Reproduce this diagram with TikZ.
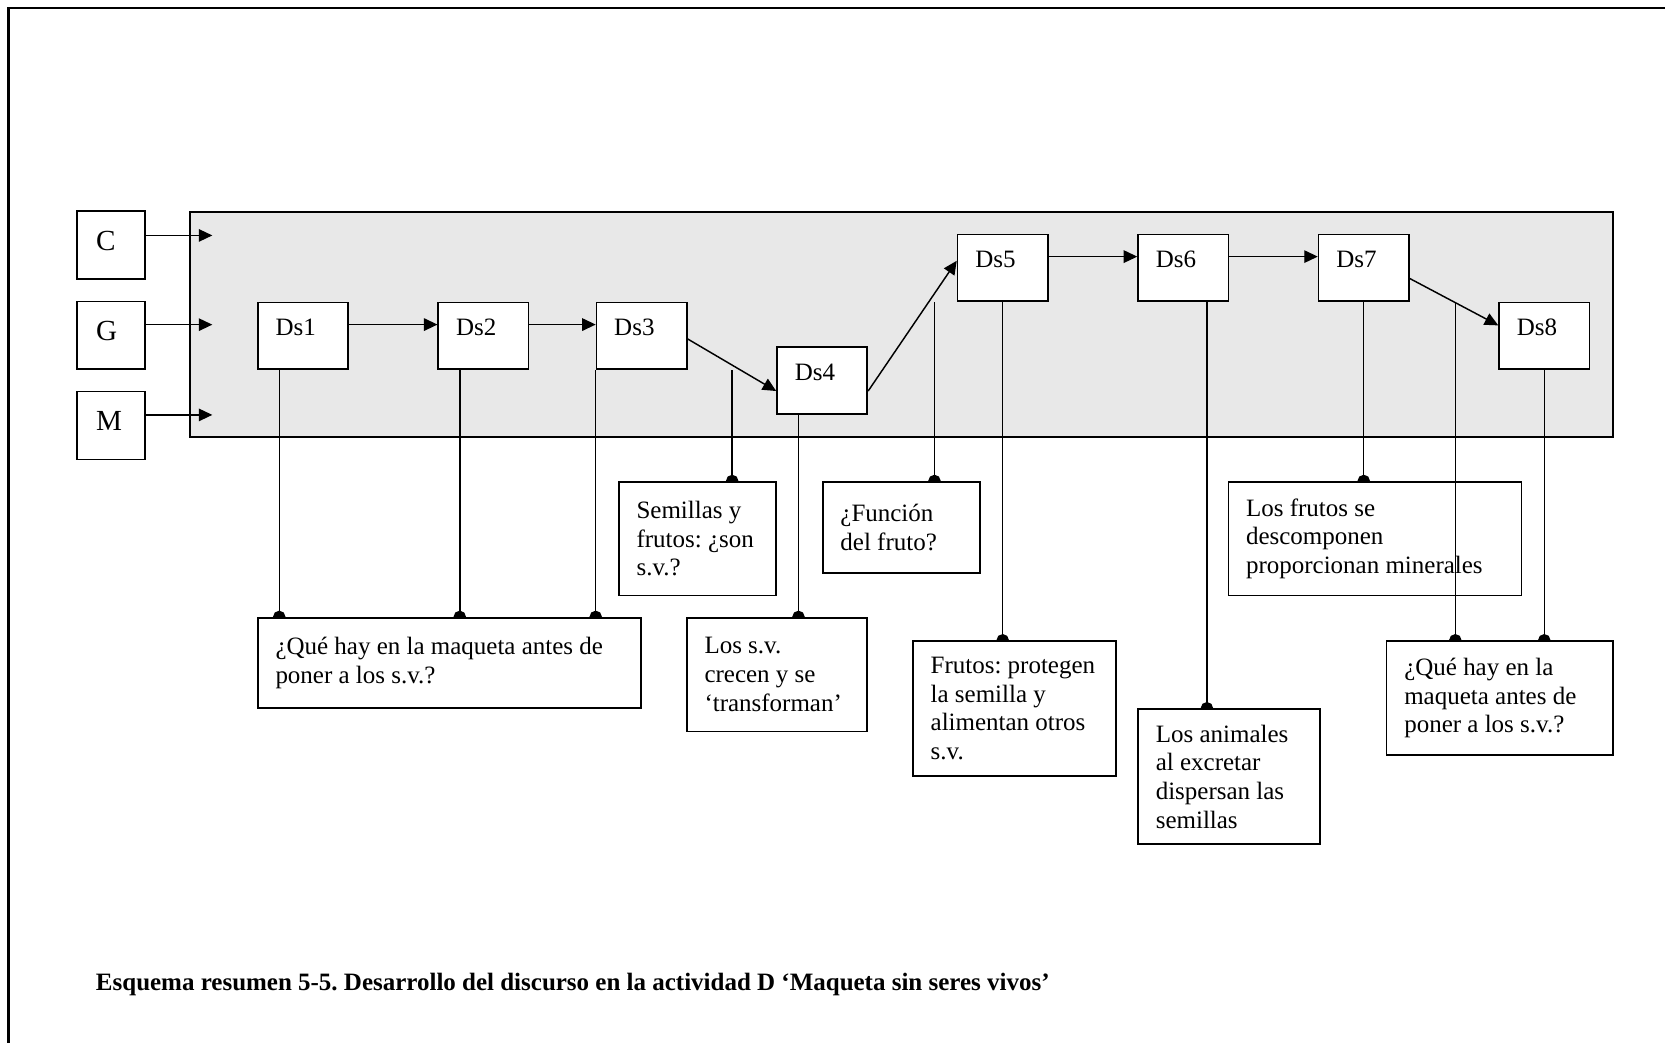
\documentclass[tikz,border=0pt]{standalone}
\usepackage{fontspec}
\setmainfont{Liberation Serif}
\usetikzlibrary{arrows.meta,calc}
\pgfdeclarelayer{back}
\pgfdeclarelayer{wires}
\pgfsetlayers{back,wires,main}
\frenchspacing
\tikzset{
  box/.style={draw, fill=white, line width=0.8pt, anchor=north west, align=flush left, inner xsep=8.5pt, inner ysep=0pt, font=\fontsize{12}{13.8}\selectfont, text width=#1},
  box/.default=26.35pt,
  src/.style={box=14.6pt, inner xsep=9pt, font=\fontsize{14}{16}\selectfont, text height=18.9pt, text depth=13.7pt},
  dsb/.style={box, text height=16pt, text depth=16.1pt},
  panel/.style={draw, fill=black!9, line width=1pt, anchor=north west, inner sep=0pt},
  rim/.style={line width=1.3pt},
  arr/.style={-{Triangle[length=6.5pt,width=6pt]}, line width=0.7pt},
  dotl/.style={-{Circle[length=6pt]}, shorten >=-3pt, line width=0.7pt},
  captxt/.style={anchor=base west, inner sep=0pt, font=\fontsize{12}{14}\selectfont\bfseries},
}
\begin{document}
\begin{tikzpicture}[x=0.51pt, y=-0.51pt]
  \useasboundingbox (0,0) rectangle (1568,982);
  \draw[rim] (1568,7.5) -- (8,7.5) -- (8,982);
  \begin{pgfonlayer}{back}
    \node[panel, minimum width=683.4pt, minimum height=108.1pt] (panel) at (178,199) {};
  \end{pgfonlayer}
  \node[src] (c) at (72,198) {C};
  \node[src] (g) at (72,283) {G};
  \node[src] (m) at (72,368) {M};
  \node[dsb] (ds1) at (242,284) {Ds1};
  \node[dsb] (ds2) at (412,284) {Ds2};
  \node[dsb] (ds3) at (561,284) {Ds3};
  \node[dsb] (ds4) at (731,326) {Ds4};
  \node[dsb] (ds5) at (901,220) {Ds5};
  \node[dsb] (ds6) at (1071,220) {Ds6};
  \node[dsb] (ds7) at (1241,220) {Ds7};
  \node[dsb] (ds8) at (1411,284) {Ds8};
  \node[box=167.1pt, minimum height=43.35pt] (q1) at (242,581) {¿Qué hay en la maqueta antes de\\ poner a los s.v.?};
  \node[box=58.5pt, minimum height=54.6pt] (seed) at (582,453) {Semillas y\\ frutos: ¿son\\ s.v.?};
  \node[box=69.7pt, minimum height=54.6pt] (grow) at (646,581) {Los s.v.\\ crecen y se\\ ‘transforman’};
  \node[box=58.5pt, minimum height=43.9pt] (func) at (774,453) {¿Función\\ del fruto?};
  \node[box=80.4pt, minimum height=64.8pt] (prot) at (859,603) {Frutos: protegen\\ la semilla y\\ alimentan otros\\ s.v.};
  \node[box=70.2pt, minimum height=64.8pt] (anim) at (1071,667) {Los animales\\ al excretar\\ dispersan las\\ semillas};
  \node[box=91.6pt, minimum height=54.6pt] (q8) at (1305,603) {¿Qué hay en la\\ maqueta antes de\\ poner a los s.v.?};
  \node[captxt] (caption) at (90,933) {Esquema resumen 5-5. Desarrollo del discurso en la actividad D ‘Maqueta sin seres vivos’};
  \coordinate (k34) at ([xshift=21.4pt]ds3.south east);
  \coordinate (k45) at ([xshift=-10.7pt]ds5.south west);
  \coordinate (k78) at ([xshift=21.9pt]ds7.south east);
  \draw[arr] ([yshift=4.6pt]c.east) -- ([xshift=11.2pt,yshift=4.6pt]c.east -| panel.west);
  \draw[arr] ([yshift=5.1pt]g.east) -- ([xshift=11.2pt,yshift=5.1pt]g.east -| panel.west);
  \draw[arr] ([yshift=5.1pt]m.east) -- ([xshift=11.2pt,yshift=5.1pt]m.east -| panel.west);
  \draw[arr] ([yshift=5.4pt]ds1.east) -- ([yshift=5.4pt]ds2.west);
  \draw[arr] ([yshift=5.4pt]ds2.east) -- ([yshift=5.4pt]ds3.west);
  \draw[arr] ([yshift=-1.5pt]ds3.east) -- ([yshift=-5.1pt]ds4.west);
  \draw[arr] ([yshift=-5.1pt]ds4.east) -- ([yshift=3.4pt]ds5.west);
  \draw[arr] ([yshift=5.4pt]ds5.east) -- ([yshift=5.4pt]ds6.west);
  \draw[arr] ([yshift=5.4pt]ds6.east) -- ([yshift=5.4pt]ds7.west);
  \draw[arr] ([yshift=-5.1pt]ds7.east) -- ([yshift=5pt]ds8.west);
  \begin{pgfonlayer}{wires}
    \node[box=123.8pt, minimum height=54.6pt] (decay) at (1156,453) {Los frutos se\\ descomponen\\ proporcionan minerales};
    \draw[dotl] ([xshift=10.7pt]ds1.south west) -- ([xshift=10.7pt]ds1.south west |- q1.north);
    \draw[dotl] ([xshift=10.7pt]ds2.south west) -- ([xshift=10.7pt]ds2.south west |- q1.north);
    \draw[dotl] (ds3.south west) -- (ds3.south west |- q1.north);
    \draw[dotl] (k34) -- (k34 |- seed.north);
    \draw[dotl] ([xshift=10.7pt]ds4.south west) -- ([xshift=10.7pt]ds4.south west |- grow.north);
    \draw[dotl] (k45) -- (k45 |- func.north);
    \draw[dotl] (ds5.south) -- (ds5.south |- prot.north);
    \draw[dotl] ([xshift=-10.7pt]ds6.south east) -- ([xshift=-10.7pt]ds6.south east |- anim.north);
    \draw[dotl] (k78) -- (k78 |- q8.north);
    \draw[dotl] (ds8.south) -- (ds8.south |- q8.north);
  \end{pgfonlayer}
  \begin{pgfonlayer}{back}
    \draw[dotl] (ds7.south) -- (ds7.south |- decay.north);
  \end{pgfonlayer}
\end{tikzpicture}
\end{document}
